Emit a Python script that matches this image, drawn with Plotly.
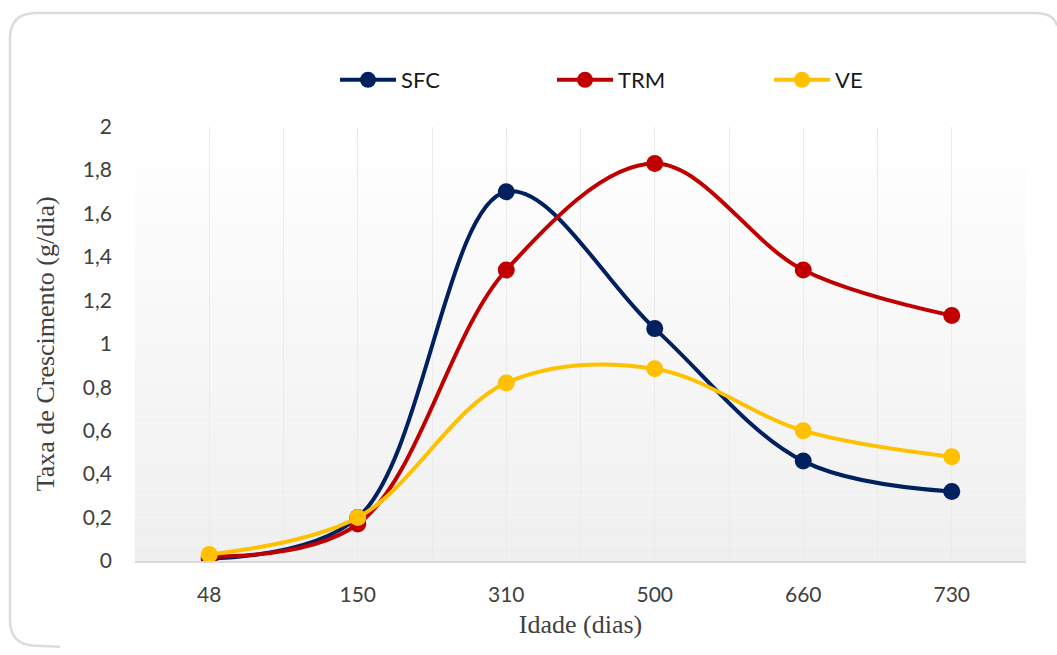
import plotly.graph_objects as go

categories = ["48", "150", "310", "500", "660", "730"]
sfc = [0.01, 0.20, 1.70, 1.07, 0.46, 0.32]
trm = [0.02, 0.17, 1.34, 1.83, 1.34, 1.13]
ve = [0.03, 0.20, 0.82, 0.885, 0.60, 0.48]

series = [("SFC", sfc, "#002060"), ("TRM", trm, "#C00000"), ("VE", ve, "#FFC000")]

W, H = 1057, 655
ML, MR, MT, MB = 135, 31, 125, 94
PW, PH = W - ML - MR, H - MT - MB

def px(x):
    return (x - ML) / PW

def py(y):
    return (H - MB - y) / PH

xs = list(range(len(categories)))

fig = go.Figure()
for name, vals, col in series:
    fig.add_trace(go.Scatter(
        x=xs, y=vals, name=name, mode="lines+markers",
        line=dict(color=col, width=4, shape="spline", smoothing=1.0),
        marker=dict(color=col, size=17),
    ))

shapes = []
# gradient background of plot area
n = 60
for i in range(n):
    t = (i + 0.5) / n
    v = int(round(255 - (255 - 239) * t))
    c = f"rgb({v},{v},{v})"
    shapes.append(dict(type="rect", xref="paper", yref="paper",
                       x0=0, x1=1, y0=1 - (i + 1) / n, y1=1 - i / n,
                       fillcolor=c, line=dict(width=0), layer="below"))

# outer card frame
path = (f"M {px(1057)},{py(24)} Q {px(1054)},{py(11)} {px(1035)},{py(11)} "
        f"L {px(36)},{py(11)} Q {px(10)},{py(11)} {px(10)},{py(37)} "
        f"L {px(10)},{py(620)} Q {px(10)},{py(646)} {px(36)},{py(646)} L {px(60)},{py(647)}")
shapes.append(dict(type="path", xref="paper", yref="paper", path=path,
                   line=dict(color="#dcdcdc", width=2.5), layer="below"))

fig.update_layout(
    width=W, height=H,
    margin=dict(l=ML, r=MR, t=MT, b=MB),
    paper_bgcolor="white",
    plot_bgcolor="rgba(0,0,0,0)",
    separators=",.",
    shapes=shapes,
    showlegend=True,
    legend=dict(orientation="h", xref="container", yref="container",
                x=335 / W, y=1 - 80 / H, xanchor="left", yanchor="middle",
                font=dict(family="Lato", size=22, color="#1a1a1a"),
                entrywidth=146, entrywidthmode="pixels", itemwidth=56,
                bgcolor="rgba(0,0,0,0)", traceorder="normal"),
    xaxis=dict(range=[-0.5, 5.5], tickmode="array", tickvals=xs, ticktext=categories,
               showgrid=True, gridcolor="#ebebeb", gridwidth=1,
               minor=dict(tickmode="array", tickvals=[i - 0.5 for i in range(len(categories) + 1)],
                          showgrid=True, gridcolor="#ebebeb", gridwidth=1, ticks=""),
               showline=True, linecolor="#d9d9d9", linewidth=2, zeroline=False,
               ticks="", ticklabelstandoff=14,
               tickfont=dict(family="Lato", size=21, color="#404040"),
               title=dict(text="Idade (dias)", standoff=10,
                          font=dict(family="Liberation Serif", size=26, color="#404040"))),
    yaxis=dict(range=[0, 2], dtick=0.2, tick0=0, showgrid=False, zeroline=False,
               showline=False, ticks="", ticklabelstandoff=22,
               tickfont=dict(family="Lato", size=21, color="#404040"),
               title=dict(text="Taxa de Crescimento (g/dia)", standoff=20,
                          font=dict(family="Liberation Serif", size=26, color="#404040"))),
)

fig.write_html("out.html")
